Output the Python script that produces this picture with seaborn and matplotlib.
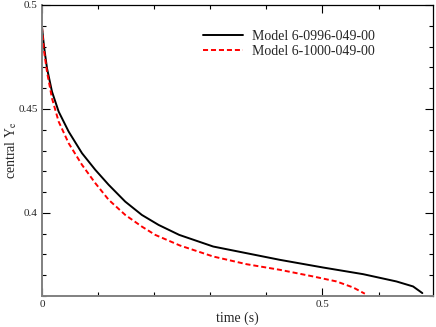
import numpy as np
import pandas as pd
import matplotlib
matplotlib.use("Agg")
import matplotlib.pyplot as plt
from matplotlib.ticker import MultipleLocator
import seaborn as sns

# values
labels = ["Model 6-0996-049-00", "Model 6-1000-049-00"]

t_0996 = [0.0, 0.0036, 0.0089, 0.0178, 0.0297, 0.0475, 0.0713, 0.095, 0.1188, 0.1484,
          0.178, 0.2078, 0.2446, 0.3052, 0.3646, 0.424, 0.5012, 0.5725, 0.6318, 0.6615,
          0.678]
ye_0996 = [0.4893, 0.4800, 0.4696, 0.4583, 0.4487, 0.4391, 0.4287, 0.4207, 0.4135, 0.4054,
           0.3990, 0.3942, 0.3894, 0.3838, 0.3806, 0.3774, 0.3737, 0.3705, 0.3670, 0.3646,
           0.3614]

t_1000 = [0.0, 0.0030, 0.0089, 0.0178, 0.0297, 0.0475, 0.0713, 0.095, 0.1188, 0.1484,
          0.178, 0.2019, 0.2458, 0.3052, 0.3646, 0.424, 0.4834, 0.525, 0.5547, 0.5755]
ye_1000 = [0.4893, 0.4790, 0.4679, 0.4551, 0.4439, 0.4335, 0.4231, 0.4143, 0.4063, 0.3990,
           0.3934, 0.3894, 0.3843, 0.3790, 0.3753, 0.3726, 0.3694, 0.3670, 0.3641, 0.3611]

df = pd.concat([
    pd.DataFrame({"time": t_0996, "ye": ye_0996, "model": labels[0]}),
    pd.DataFrame({"time": t_1000, "ye": ye_1000, "model": labels[1]}),
], ignore_index=True)

sns.set_style("ticks")
plt.rcParams["font.family"] = ["Liberation Serif", "DejaVu Serif"]
plt.rcParams["mathtext.fontset"] = "stix"

fig = plt.figure(figsize=(4.36, 3.27), dpi=100)
ax = fig.add_axes([42 / 436, 1 - 296 / 327, 391 / 436, 291 / 327])

sns.lineplot(data=df, x="time", y="ye", hue="model", style="model",
             palette={labels[0]: "black", labels[1]: "red"},
             dashes={labels[0]: "", labels[1]: (2.6, 1.5)},
             estimator=None, sort=False, linewidth=1.4, ax=ax)

ax.set_xlim(0, 0.697)
ax.set_ylim(0.36, 0.5)
ax.xaxis.set_minor_locator(MultipleLocator(0.1))
ax.yaxis.set_minor_locator(MultipleLocator(0.01))
ax.set_xticks([0, 0.5])
ax.set_xticklabels(["0", "0.5"])
ax.set_yticks([0.4, 0.45, 0.5])
ax.set_yticklabels(["0.4", "0.45", "0.5"])

ax.tick_params(which="both", direction="in", top=True, right=True,
               labelsize=8, color="black", pad=3)
ax.tick_params(which="major", length=5.8, width=0.8)
ax.tick_params(which="minor", length=3.0, width=0.8)

for side in ["left", "bottom"]:
    ax.spines[side].set_color("#808080")
    ax.spines[side].set_linewidth(1.4)
for side in ["top", "right"]:
    ax.spines[side].set_color("black")
    ax.spines[side].set_linewidth(0.9)

ax.set_xlabel("time (s)", fontsize=10, labelpad=2)
ax.set_ylabel(r"central Y$_\mathrm{e}$", fontsize=10)
ax.yaxis.set_label_coords(-0.06, 0.5)

ax.legend(loc="upper left", bbox_to_anchor=(0.412, 0.915), frameon=False,
          fontsize=10, borderaxespad=0, borderpad=0, handlelength=2.9,
          handletextpad=0.6, labelspacing=0.15)

fig.savefig("out.png", dpi=100)
